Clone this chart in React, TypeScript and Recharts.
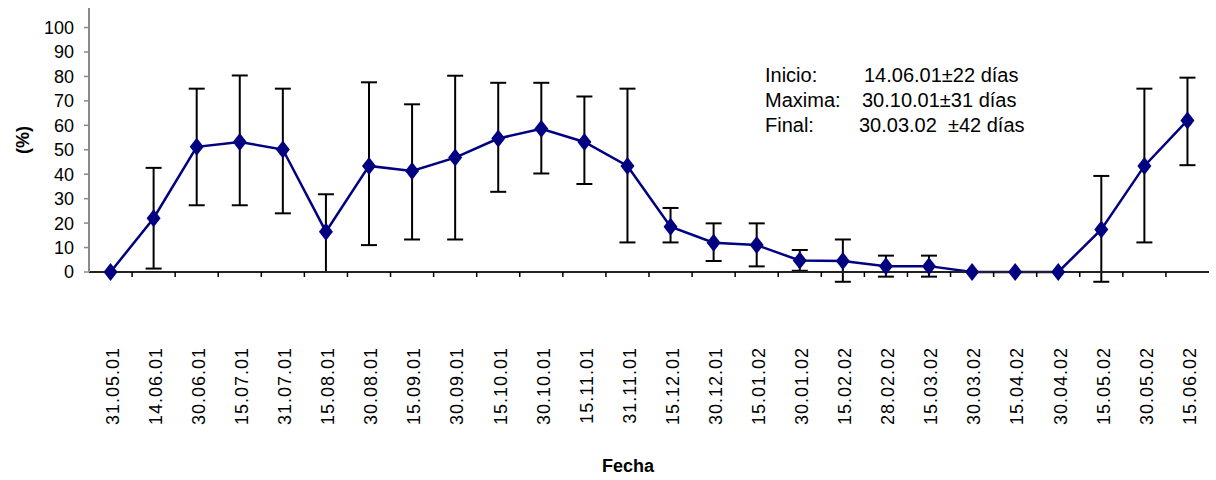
import { LineChart, Line, XAxis, YAxis, ErrorBar, Label } from 'recharts'

// fechas de muestreo (eje X)
const fechas = [
  '31.05.01', '14.06.01', '30.06.01', '15.07.01', '31.07.01', '15.08.01',
  '30.08.01', '15.09.01', '30.09.01', '15.10.01', '30.10.01', '15.11.01',
  '31.11.01', '15.12.01', '30.12.01', '15.01.02', '30.01.02', '15.02.02',
  '28.02.02', '15.03.02', '30.03.02', '15.04.02', '30.04.02', '15.05.02',
  '30.05.02', '15.06.02',
]
// porcentaje medio
const porcentaje = [
  0, 22, 51.2, 53.2, 50.1, 16.5, 43.4, 41.3, 46.8, 54.6, 58.6, 53.2, 43.4,
  18.5, 12, 11, 4.7, 4.5, 2.4, 2.4, 0, 0, 0, 17.4, 43.4, 62,
]
// extremos de las barras de error
const limiteInf = [
  null, 1.4, 27.3, 27.3, 24, 0, 11, 13.3, 13.3, 32.8, 40.3, 36, 12.1,
  12.1, 4.5, 2.3, 0.5, -4, -1.9, -1.9, null, null, null, -4, 12.1, 43.7,
]
const limiteSup = [
  null, 42.6, 75, 80.4, 75, 31.8, 77.6, 68.6, 80.3, 77.4, 77.4, 71.8, 75,
  26.2, 19.9, 19.9, 9, 13.3, 6.7, 6.7, null, null, null, 39.3, 75, 79.5,
]
const yTicks = [0, 10, 20, 30, 40, 50, 60, 70, 80, 90, 100]

const notas = [
  ['Inicio:', '14.06.01±22 días', 864],
  ['Maxima:', '30.10.01±31 días', 862],
  ['Final:', '30.03.02  ±42 días', 859],
] as const

const data = fechas.map((f, i) => ({
  i,
  fecha: f,
  valor: porcentaje[i],
  err:
    limiteInf[i] == null || limiteSup[i] == null
      ? undefined
      : [porcentaje[i] - (limiteInf[i] as number), (limiteSup[i] as number) - porcentaje[i]],
}))

// marcas en los centros (etiqueta) y entre categorías (raya)
const xTicks = fechas
  .flatMap((_, i) => (i < fechas.length - 1 ? [i, i + 0.5] : [i]))

const GRIS = '#8a8a8a'
const AZUL = '#000080'

function Rombo({ cx, cy }: any) {
  if (cx == null || cy == null) return null
  return (
    <polygon
      points={`${cx},${cy - 9} ${cx + 7},${cy} ${cx},${cy + 9} ${cx - 7},${cy}`}
      fill={AZUL}
    />
  )
}

function FechaTick({ x, y, payload }: any) {
  const v = payload.value
  if (!Number.isInteger(v)) {
    return <line x1={x} y1={y} x2={x} y2={y + 5} stroke="#000" strokeWidth={1.5} />
  }
  const ty = y + 75
  return (
    <text
      x={x + 2}
      y={ty}
      dy="0.35em"
      textAnchor="end"
      fontSize={18}
      letterSpacing={1}
      fill="#000"
      transform={`rotate(-90, ${x + 2}, ${ty})`}
    >
      {fechas[v]}
    </text>
  )
}

export default function App() {
  return (
    <div
      style={{
        position: 'absolute',
        left: 0,
        top: 0,
        width: 1216,
        height: 480,
        background: '#fff',
        fontFamily: '"Liberation Sans", Arial, sans-serif',
      }}
    >
      <LineChart width={1216} height={480} data={data} margin={{ top: 8, right: 7, bottom: 0, left: 0 }}>
        <XAxis
          dataKey="i"
          type="number"
          domain={[-0.5, fechas.length - 0.5]}
          ticks={xTicks}
          interval={0}
          height={208}
          tickSize={0}
          tickMargin={0}
          tickLine={false}
          axisLine={{ stroke: '#222', strokeWidth: 2 }}
          tick={<FechaTick />}
        >
          <Label
            content={({ viewBox }: any) => (
              <text
                x={viewBox.x + viewBox.width / 2 - 21}
                y={viewBox.y + viewBox.height - 8}
                textAnchor="middle"
                fontSize={18}
                fontWeight="bold"
                fill="#000"
              >
                Fecha
              </text>
            )}
          />
        </XAxis>
        <XAxis
          xAxisId="arriba"
          orientation="top"
          dataKey="i"
          type="number"
          domain={[-0.5, fechas.length - 0.5]}
          height={0}
          tick={false}
          tickLine={false}
          axisLine={{ stroke: GRIS, strokeWidth: 2 }}
        />
        <YAxis
          domain={[0, 108]}
          allowDataOverflow
          ticks={yTicks}
          interval={0}
          width={89}
          tickSize={5}
          tickMargin={10}
          tick={{ fontSize: 18, fill: '#000' }}
          tickLine={{ stroke: GRIS, strokeWidth: 1.5 }}
          axisLine={{ stroke: GRIS, strokeWidth: 2 }}
        >
          <Label
            content={({ viewBox }: any) => {
              const cx = viewBox.x + 23
              const cy = viewBox.y + viewBox.height / 2
              return (
                <text
                  x={cx}
                  y={cy}
                  dy="0.35em"
                  textAnchor="middle"
                  fontSize={18}
                  fontWeight="bold"
                  fill="#000"
                  transform={`rotate(-90, ${cx}, ${cy})`}
                >
                  (%)
                </text>
              )
            }}
          />
        </YAxis>
        <YAxis
          yAxisId="der"
          orientation="right"
          domain={[0, 108]}
          width={0}
          tick={false}
          tickLine={false}
          axisLine={{ stroke: GRIS, strokeWidth: 2 }}
        />
        {/* barras de error (serie sin trazo) */}
        <Line
          dataKey="valor"
          stroke="none"
          dot={false}
          activeDot={false}
          legendType="none"
          isAnimationActive={false}
        >
          <ErrorBar dataKey="err" direction="y" width={8} stroke="#000" strokeWidth={2} isAnimationActive={false} />
        </Line>
        <Line
          yAxisId="der"
          dataKey="valor"
          stroke={AZUL}
          strokeWidth={2.5}
          dot={<Rombo />}
          activeDot={false}
          isAnimationActive={false}
        />
      </LineChart>
      {notas.map(([nombre, texto, left], k) => (
        <div key={k} style={{ position: 'absolute', top: 63 + k * 25, left: 0, fontSize: 20, lineHeight: '25px', whiteSpace: 'pre' }}>
          <span style={{ position: 'absolute', left: 765 }}>{nombre}</span>
          <span style={{ position: 'absolute', left }}>{texto}</span>
        </div>
      ))}
    </div>
  )
}
